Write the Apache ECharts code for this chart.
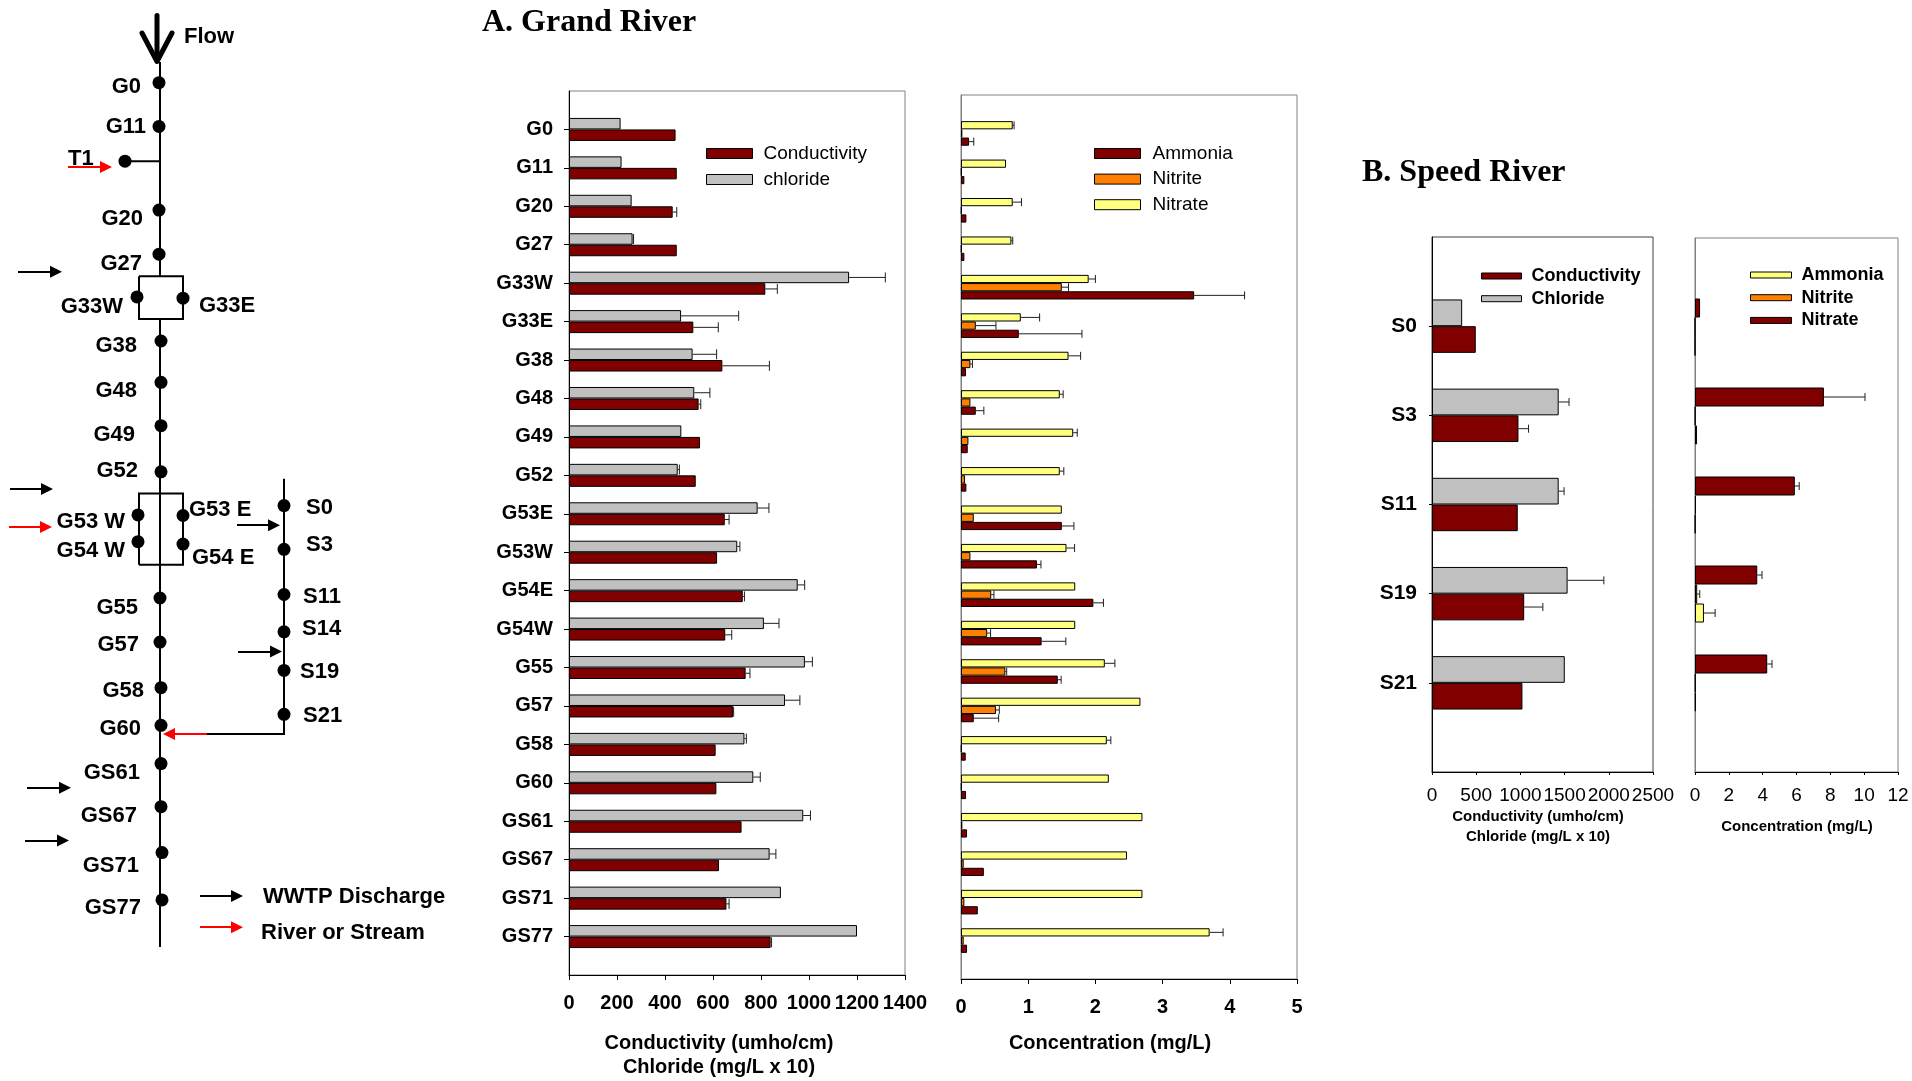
<!DOCTYPE html>
<html>
<head>
<meta charset="utf-8">
<title>Grand River and Speed River water chemistry</title>
<script src="https://cdn.jsdelivr.net/npm/echarts@6/dist/echarts.min.js"></script>
<style>
  html, body { margin: 0; padding: 0; background: #fff; }
  #chart { width: 1912px; height: 1081px; }
</style>
</head>
<body>
<div id="chart"></div>
<script>
// ---------- Grand River stations (A) ----------
const catsA = ['G0','G11','G20','G27','G33W','G33E','G38','G48','G49','G52','G53E','G53W',
               'G54E','G54W','G55','G57','G58','G60','GS61','GS67','GS71','GS77'];
// conductivity (umho/cm) and chloride (mg/L x 10)
const condA       = [444,449,432,449,818,518,639,540,546,528,649,617,724,651,736,683,611,614,719,625,656,840];
const condErrA    = [0,0,17,0,50,104,196,9,0,0,18,0,7,27,18,3,0,0,0,0,11,4];
const chlorideA   = [215,219,261,265,1167,467,515,522,468,453,786,701,953,812,983,900,731,768,976,836,883,1200];
const chlorideErrA= [0,0,0,4,151,240,100,65,0,7,47,11,29,63,31,62,8,29,30,26,0,0];
// nutrients (mg/L)
const nitrateA    = [0.77,0.67,0.77,0.75,1.90,0.89,1.60,1.47,1.67,1.47,1.50,1.57,1.70,1.70,2.14,2.67,2.17,2.20,2.70,2.47,2.70,3.70];
const nitrateErrA = [0.02,0,0.13,0.02,0.10,0.28,0.18,0.05,0.06,0.06,0,0.12,0,0,0.15,0,0.06,0,0,0,0,0.20];
const nitriteA    = [0.02,0.01,0.01,0.01,1.50,0.22,0.14,0.14,0.11,0.06,0.19,0.14,0.45,0.39,0.66,0.52,0.01,0.01,0.02,0.04,0.05,0.04];
const nitriteErrA = [0,0,0,0,0.10,0.30,0.03,0,0,0,0,0,0.04,0.05,0.02,0.05,0,0,0,0,0,0];
const ammoniaA    = [0.12,0.05,0.08,0.05,3.47,0.86,0.075,0.22,0.10,0.08,1.50,1.13,1.97,1.20,1.44,0.19,0.07,0.075,0.09,0.34,0.25,0.09];
const ammoniaErrA = [0.07,0,0,0,0.75,0.94,0,0.12,0,0,0.18,0.06,0.15,0.36,0.05,0.37,0,0,0,0,0,0];

// ---------- Speed River stations (B) ----------
const catsB = ['S0','S3','S11','S19','S21'];
const condB       = [495,978,970,1043,1023];
const condErrB    = [0,114,0,211,0];
const chlorideB   = [341,1433,1433,1534,1502];
const chlorideErrB= [0,117,61,410,0];
const nitrateB    = [0.30,7.62,5.90,3.68,4.27];
const nitrateErrB = [0,2.43,0.26,0.28,0.28];
const nitriteB    = [0,0.02,0.05,0.13,0.03];
const nitriteErrB = [0,0,0,0.15,0];
const ammoniaB    = [0,0.12,0.02,0.53,0.04];
const ammoniaErrB = [0,0,0,0.66,0];

// ---------- axis ticks ----------
const ticksCondA = [0,200,400,600,800,1000,1200,1400];
const ticksConcA = [0,1,2,3,4,5];
const ticksCondB = [0,500,1000,1500,2000,2500];
const ticksConcB = [0,2,4,6,8,10,12];

// ---------- schematic of the river network ----------
// [label, dot x, dot y, label x, label y, label side]
const sites = [
  ['G0',159,82.7,141,86.8,'L'], ['G11',159,126.4,146,127.4,'L'], ['T1',125,161.2,68,159,'R'],
  ['G20',159,210.1,143,219,'L'], ['G27',159,254.2,142,263.8,'L'],
  ['G33W',137,296.9,123,306.5,'L'], ['G33E',183,298.2,199,305.8,'R'],
  ['G38',161,341,137,345.8,'L'], ['G48',161,382.3,137,391.2,'L'], ['G49',161,425.7,135,435.3,'L'],
  ['G52',161,471.8,138,470.8,'L'],
  ['G53 W',138,514.9,125,521.7,'L'], ['G53 E',183,515.5,189,509.7,'R'],
  ['G54 W',138,541.7,125,551,'L'], ['G54 E',183,544.1,192,558,'R'],
  ['G55',160,598,138,608,'L'], ['G57',160,642.1,139,645.2,'L'], ['G58',161,687.7,144,691.1,'L'],
  ['G60',161,725.3,141,729.1,'L'], ['GS61',161,763.6,140,773.3,'L'], ['GS67',161,806.7,137,816,'L'],
  ['GS71',162,852.6,139,866.1,'L'], ['GS77',162,899.9,141,907.8,'L'],
  ['S0',284,505.6,306,508,'R'], ['S3',284,549.3,306,545.2,'R'], ['S11',284,594.5,303,596.9,'R'],
  ['S14',284,631.8,302,629,'R'], ['S19',284,670.4,300,671.8,'R'], ['S21',284,714.3,303,716,'R']
];
const schematicText = [
  ['Flow',184,36.8], ['WWTP Discharge',263,897.1], ['River or Stream',261,933.4]
];
const riverLines = [
  [[160,62],[160,276.2]],
  [[139,276.2],[183,276.2],[183,318.9],[139,318.9],[139,276.2]],
  [[160,318.9],[160,947]],
  [[139,564.8],[139,493.5],[183,493.5],[183,564.8],[139,564.8]],
  [[125,161.2],[160,161.2]],
  [[284,478.7],[284,734],[206,734]]
];
const dischargeArrows = [
  [[18,271.7],[56,271.7]], [[10,489],[47,489]], [[237,525.2],[274,525.2]], [[238,651.5],[276,651.5]],
  [[27,787.8],[65,787.8]], [[25,840.6],[63,840.6]], [[200,896.1],[237,896.1]]
];
const streamArrows = [
  [[68,167],[106,167]], [[9,526.9],[46,526.9]], [[207,734],[169,734]], [[200,927.2],[237,927.2]]
];
const flowArrow = [ [[157,15.5],[157,59]], [[142,33],[157,61.5],[172,33]] ];

// ---------- helpers ----------
const FONT = 'Liberation Sans';
const RED = '#800000', GRAY = '#C0C0C0', ORANGE = '#FF8000', YELLOW = '#FFFF80';
const pad = arr => [null].concat(arr, [null]);
const padCats = arr => [''].concat(arr, ['']);
const plain = v => String(v);

function errData(vals, errs) {
  const out = [];
  vals.forEach((v, i) => { if (errs[i] > 0) out.push([v, i + 1, errs[i]]); });
  return out;
}
function errSeries(name, grid, vals, errs, offset, capHalf) {
  return {
    type: 'custom', name: name + ' error', xAxisIndex: grid, yAxisIndex: grid,
    coordinateSystem: 'cartesian2d', silent: true, z: 5, clip: false,
    encode: { x: 0, y: 1 },
    data: errData(vals, errs),
    renderItem: function (params, api) {
      const v = api.value(0), c = api.value(1), e = api.value(2);
      const a = api.coord([v, c]);
      const b = api.coord([v + e, c]);
      const y = a[1] + offset;
      const st = { stroke: '#202020', lineWidth: 1 };
      return { type: 'group', children: [
        { type: 'line', shape: { x1: a[0], y1: y, x2: b[0], y2: y }, style: st },
        { type: 'line', shape: { x1: b[0], y1: y - capHalf, x2: b[0], y2: y + capHalf }, style: st }
      ]};
    }
  };
}
function barSeries(name, grid, vals, color, width) {
  return {
    type: 'bar', name: name, xAxisIndex: grid, yAxisIndex: grid,
    data: pad(vals), barWidth: width, barGap: '0%',
    itemStyle: { color: color, borderColor: '#000', borderWidth: 1 },
    silent: true
  };
}
function valueAxis(grid, ticks, opts) {
  return Object.assign({
    type: 'value', gridIndex: grid, min: ticks[0], max: ticks[ticks.length - 1],
    interval: ticks[1] - ticks[0], splitLine: { show: false },
    axisLine: { show: true, lineStyle: { color: '#000', width: 1 } },
    axisTick: { show: true, length: 5, lineStyle: { color: '#000' } },
    axisLabel: { fontFamily: FONT, fontSize: 20, fontWeight: 'bold', color: '#000', margin: 18,
                 formatter: plain, showMinLabel: true, showMaxLabel: true, hideOverlap: false }
  }, opts || {});
}
function catAxis(grid, cats, opts) {
  return Object.assign({
    type: 'category', gridIndex: grid, data: padCats(cats), boundaryGap: false, inverse: true,
    axisLine: { show: true, lineStyle: { color: '#000', width: 1 } },
    axisTick: { show: true, length: 5, interval: (i, v) => v !== '', lineStyle: { color: '#000' } },
    axisLabel: { interval: 0, fontFamily: FONT, fontSize: 20, fontWeight: 'bold', color: '#000', margin: 16 },
    splitLine: { show: false }
  }, opts || {});
}
function gridBox(left, top, width, height, border) {
  return { left: left, top: top, width: width, height: height, show: true,
           borderColor: border, borderWidth: 1, backgroundColor: 'transparent',
           containLabel: false, outerBoundsMode: 'none' };
}
function legendBox(names, left, top, iw, ih, gap, fontSize, weight, textPad, fmt) {
  return {
    orient: 'vertical', left: left, top: top, itemWidth: iw, itemHeight: ih, itemGap: gap,
    icon: 'rect', padding: 0, selectedMode: false, data: names,
    itemStyle: { borderColor: '#000', borderWidth: 1 },
    textStyle: { fontFamily: FONT, fontSize: fontSize, fontWeight: weight, color: '#000',
                 padding: [0, 0, 0, textPad] },
    formatter: fmt || (n => n)
  };
}
const stripB = n => n.replace(/^S-/, '');
const smallLabel = { fontFamily: FONT, fontSize: 19, color: '#000', margin: 14, formatter: plain,
                     showMinLabel: true, showMaxLabel: true, hideOverlap: false };

const chart = echarts.init(document.getElementById('chart'), null, { renderer: 'canvas' });

const option = {
  animation: false,
  backgroundColor: '#fff',
  grid: [
    gridBox(569, 91, 336, 884, '#808080'),
    gridBox(961, 95, 336, 884, '#808080'),
    gridBox(1432, 237, 221, 535, '#404040'),
    gridBox(1695, 238, 203, 534, '#808080'),
    { left: 0, top: 0, width: 460, height: 1081, show: false, outerBoundsMode: 'none' }
  ],
  xAxis: [
    valueAxis(0, ticksCondA),
    valueAxis(1, ticksConcA),
    valueAxis(2, ticksCondB, { axisTick: { show: true, length: 3, lineStyle: { color: '#000' } }, axisLabel: smallLabel }),
    valueAxis(3, ticksConcB, { axisTick: { show: true, length: 3, lineStyle: { color: '#000' } }, axisLabel: smallLabel }),
    { type: 'value', gridIndex: 4, min: 0, max: 460, show: false }
  ],
  yAxis: [
    catAxis(0, catsA),
    catAxis(1, catsA, { axisLine: { show: true, lineStyle: { color: '#808080' } },
      axisTick: { show: false }, axisLabel: { show: false } }),
    catAxis(2, catsB, { axisTick: { show: true, length: 3, interval: (i, v) => v !== '', lineStyle: { color: '#000' } },
      axisLabel: { interval: 0, fontFamily: FONT, fontSize: 21, fontWeight: 'bold', color: '#000', margin: 15 } }),
    catAxis(3, catsB, { axisLine: { show: true, lineStyle: { color: '#808080' } },
      axisTick: { show: false }, axisLabel: { show: false } }),
    { type: 'value', gridIndex: 4, min: 0, max: 1081, inverse: true, show: false }
  ],
  legend: [
    legendBox(['Conductivity', 'chloride'], 706, 144, 46, 10, 7, 19, 'normal', 6),
    legendBox(['Ammonia', 'Nitrite', 'Nitrate'], 1094, 144, 46, 10, 6.6, 19, 'normal', 7),
    legendBox(['S-Conductivity', 'S-Chloride'], 1481, 267, 40, 6, 4.7, 18, 'bold', 5, stripB),
    legendBox(['S-Ammonia', 'S-Nitrite', 'S-Nitrate'], 1750, 266, 41, 6, 4.7, 18, 'bold', 5, stripB)
  ],
  series: [
    // A: conductivity / chloride
    barSeries('chloride', 0, chlorideA, GRAY, 11.5),
    barSeries('Conductivity', 0, condA, RED, 11.5),
    errSeries('chloride', 0, chlorideA, chlorideErrA, -5.75, 5),
    errSeries('Conductivity', 0, condA, condErrA, 5.75, 5),
    // A: nutrients
    barSeries('Nitrate', 1, nitrateA, YELLOW, 8.2),
    barSeries('Nitrite', 1, nitriteA, ORANGE, 8.2),
    barSeries('Ammonia', 1, ammoniaA, RED, 8.2),
    errSeries('Nitrate', 1, nitrateA, nitrateErrA, -8.2, 4),
    errSeries('Nitrite', 1, nitriteA, nitriteErrA, 0, 4),
    errSeries('Ammonia', 1, ammoniaA, ammoniaErrA, 8.2, 4),
    // B: conductivity / chloride
    barSeries('S-Chloride', 2, chlorideB, GRAY, 26.7),
    barSeries('S-Conductivity', 2, condB, RED, 26.7),
    errSeries('S-Chloride', 2, chlorideB, chlorideErrB, -13.35, 4),
    errSeries('S-Conductivity', 2, condB, condErrB, 13.35, 4),
    // B: nutrients
    barSeries('S-Nitrate', 3, nitrateB, RED, 19),
    barSeries('S-Nitrite', 3, nitriteB, ORANGE, 19),
    barSeries('S-Ammonia', 3, ammoniaB, YELLOW, 19),
    errSeries('S-Nitrate', 3, nitrateB, nitrateErrB, -19, 4),
    errSeries('S-Nitrite', 3, nitriteB, nitriteErrB, 0, 4),
    errSeries('S-Ammonia', 3, ammoniaB, ammoniaErrB, 19, 4),

    // river network schematic
    {
      type: 'lines', coordinateSystem: 'cartesian2d', xAxisIndex: 4, yAxisIndex: 4, polyline: true,
      silent: true, symbol: 'none', lineStyle: { color: '#000', width: 2, opacity: 1 },
      data: riverLines.map(c => ({ coords: c }))
    },
    {
      type: 'lines', coordinateSystem: 'cartesian2d', xAxisIndex: 4, yAxisIndex: 4, polyline: true,
      silent: true, symbol: 'none', lineStyle: { color: '#000', width: 5, opacity: 1, cap: 'round', join: 'round' },
      data: flowArrow.map(c => ({ coords: c }))
    },
    {
      type: 'lines', coordinateSystem: 'cartesian2d', xAxisIndex: 4, yAxisIndex: 4,
      silent: true, symbol: ['none', 'triangle'], symbolSize: 12,
      lineStyle: { color: '#000', width: 2, opacity: 1 },
      data: dischargeArrows.map(c => ({ coords: c }))
    },
    {
      type: 'lines', coordinateSystem: 'cartesian2d', xAxisIndex: 4, yAxisIndex: 4,
      silent: true, symbol: ['none', 'triangle'], symbolSize: 12,
      lineStyle: { color: '#FF0000', width: 2, opacity: 1 },
      itemStyle: { color: '#FF0000' },
      data: streamArrows.map(c => ({ coords: c }))
    },
    {
      type: 'scatter', xAxisIndex: 4, yAxisIndex: 4, silent: true, symbol: 'circle', symbolSize: 13,
      itemStyle: { color: '#000', opacity: 1 }, z: 4,
      data: sites.map(s => [s[1], s[2]])
    },
    {
      type: 'scatter', xAxisIndex: 4, yAxisIndex: 4, silent: true, symbolSize: 0, z: 4,
      itemStyle: { opacity: 1 },
      data: sites.map(s => ({ value: [s[3], s[4]], name: s[0],
        label: { align: s[5] === 'L' ? 'right' : 'left' } }))
        .concat(schematicText.map(t => ({ value: [t[1], t[2]], name: t[0], label: { align: 'left' } }))),
      label: { show: true, position: [0, 0], formatter: p => p.name, verticalAlign: 'middle',
               fontFamily: FONT, fontSize: 22, fontWeight: 'bold', color: '#000', opacity: 1 }
    }
  ],
  graphic: [
    { type: 'text', x: 482, y: 23, silent: true,
      style: { text: 'A. Grand River', fontFamily: 'Liberation Serif', fontSize: 32, fontWeight: 'bold',
               fill: '#000', align: 'left', verticalAlign: 'middle' } },
    { type: 'text', x: 1362, y: 172.5, silent: true,
      style: { text: 'B. Speed River', fontFamily: 'Liberation Serif', fontSize: 32, fontWeight: 'bold',
               fill: '#000', align: 'left', verticalAlign: 'middle' } },
    { type: 'text', x: 719, y: 1043, silent: true,
      style: { text: 'Conductivity (umho/cm)', fontFamily: FONT, fontSize: 20, fontWeight: 'bold',
               fill: '#000', align: 'center', verticalAlign: 'middle' } },
    { type: 'text', x: 719, y: 1067, silent: true,
      style: { text: 'Chloride (mg/L x 10)', fontFamily: FONT, fontSize: 20, fontWeight: 'bold',
               fill: '#000', align: 'center', verticalAlign: 'middle' } },
    { type: 'text', x: 1110, y: 1043, silent: true,
      style: { text: 'Concentration (mg/L)', fontFamily: FONT, fontSize: 20, fontWeight: 'bold',
               fill: '#000', align: 'center', verticalAlign: 'middle' } },
    { type: 'text', x: 1538, y: 817, silent: true,
      style: { text: 'Conductivity (umho/cm)', fontFamily: FONT, fontSize: 15, fontWeight: 'bold',
               fill: '#000', align: 'center', verticalAlign: 'middle' } },
    { type: 'text', x: 1538, y: 837, silent: true,
      style: { text: 'Chloride (mg/L x 10)', fontFamily: FONT, fontSize: 15, fontWeight: 'bold',
               fill: '#000', align: 'center', verticalAlign: 'middle' } },
    { type: 'text', x: 1797, y: 827, silent: true,
      style: { text: 'Concentration (mg/L)', fontFamily: FONT, fontSize: 15, fontWeight: 'bold',
               fill: '#000', align: 'center', verticalAlign: 'middle' } }
  ]
};

chart.setOption(option);
</script>
</body>
</html>
